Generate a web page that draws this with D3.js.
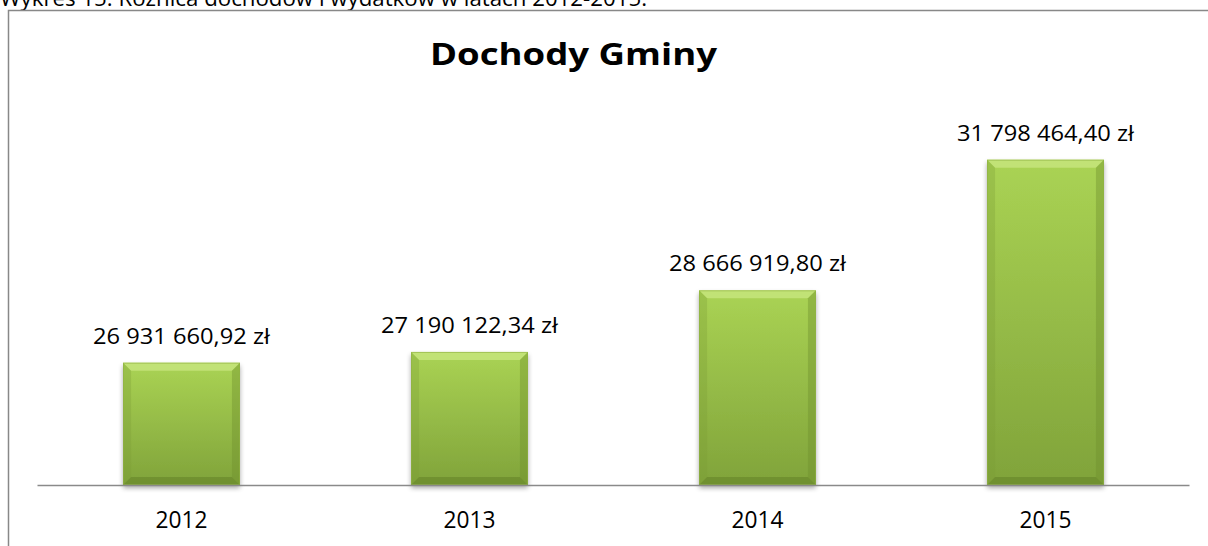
<!DOCTYPE html>
<html><head><meta charset="utf-8">
<script src="https://cdn.jsdelivr.net/npm/d3@7"></script>
<style>
html,body{margin:0;padding:0;background:#fff;overflow:hidden}
svg{display:block}
text{font-family:"Open Sans","Noto Sans",sans-serif;fill:#000}
</style></head>
<body>
<svg id="c" width="1208" height="546"></svg>
<script>
const categories = ["2012", "2013", "2014", "2015"];
const values = [26931660.92, 27190122.34, 28666919.80, 31798464.40];
const valueLabels = ["26 931 660,92 zł", "27 190 122,34 zł", "28 666 919,80 zł", "31 798 464,40 zł"];
const title = "Dochody Gminy";
const caption = "Wykres 15. Różnica dochodów i wydatków w latach 2012-2015.";
const yDomain = [24000000, 32000000];

const svg = d3.select("#c");
const W = 1208, H = 546;

const defs = svg.append("defs");
const g = defs.append("linearGradient").attr("id","barGrad").attr("x1",0).attr("y1",0).attr("x2",0).attr("y2",1);
g.append("stop").attr("offset","0%").attr("stop-color","#aad354");
g.append("stop").attr("offset","100%").attr("stop-color","#80a33a");
const f = defs.append("filter").attr("id","shadow").attr("x","-20%").attr("y","-10%").attr("width","140%").attr("height","130%");
f.append("feGaussianBlur").attr("in","SourceAlpha").attr("stdDeviation",2.5);
f.append("feOffset").attr("dx",0).attr("dy",3).attr("result","ob");
f.append("feComponentTransfer").append("feFuncA").attr("type","linear").attr("slope",0.35);
const fm = f.append("feMerge");
fm.append("feMergeNode");
fm.append("feMergeNode").attr("in","SourceGraphic");

// caption (partly cut off at top, as in the reference)
svg.append("text").attr("x",0).attr("y",6).attr("font-size",22)
  .attr("textLength",647).attr("lengthAdjust","spacingAndGlyphs").text(caption);

// chart border (left and top)
svg.append("path").attr("d",`M8.5,${H} L8.5,10.5 L${W},10.5`)
  .attr("fill","none").attr("stroke","#888").attr("stroke-width",1.5);

// title
svg.append("text").attr("x",573.5).attr("y",65).attr("text-anchor","middle")
  .attr("font-size",31).attr("font-weight","bold")
  .attr("textLength",287).attr("lengthAdjust","spacingAndGlyphs").text(title);

const x = d3.scaleBand().domain(categories).range([37.5, 1189.5]).paddingInner(0.594).paddingOuter(0.297);
const y = d3.scaleLinear().domain(yDomain).range([485, 485 - 8*41.71]);

const bars = svg.append("g");
const bev = 8;
categories.forEach((c,i) => {
  const x0 = x(c), w = x.bandwidth(), y0 = y(values[i]), y1 = y(yDomain[0]);
  const x1 = x0 + w;
  const gb = bars.append("g");
  gb.append("rect").attr("x",x0).attr("y",y0).attr("width",w).attr("height",y1-y0)
    .attr("fill","url(#barGrad)").attr("filter","url(#shadow)");
  gb.append("path").attr("d",`M${x0},${y0} L${x1},${y0} L${x1-bev},${y0+bev} L${x0+bev},${y0+bev} Z`)
    .attr("fill","#c9e782").attr("opacity",0.75);
  gb.append("path").attr("d",`M${x0},${y0} L${x0+bev},${y0+bev} L${x0+bev},${y1-bev} L${x0},${y1} Z`)
    .attr("fill","#7a9c34").attr("opacity",0.3);
  gb.append("path").attr("d",`M${x1},${y0} L${x1-bev},${y0+bev} L${x1-bev},${y1-bev} L${x1},${y1} Z`)
    .attr("fill","#6e8f2c").attr("opacity",0.4);
  gb.append("path").attr("d",`M${x0},${y1} L${x0+bev},${y1-bev} L${x1-bev},${y1-bev} L${x1},${y1} Z`)
    .attr("fill","#5f7e25").attr("opacity",0.5);
  gb.append("rect").attr("x",x0+0.5).attr("y",y0+0.5).attr("width",w-1).attr("height",y1-y0-1)
    .attr("fill","none").attr("stroke","#8fb143").attr("stroke-width",1).attr("opacity",0.6);
});

// axis line
svg.append("line").attr("x1",37.5).attr("x2",1189.5).attr("y1",485.5).attr("y2",485.5)
  .attr("stroke","#8a8a8a").attr("stroke-width",1.5);

// value labels
svg.append("g").selectAll("text").data(categories).join("text")
  .attr("x", c => x(c) + x.bandwidth()/2)
  .attr("y", (c,i) => y(values[i]) - 19)
  .attr("text-anchor","middle").attr("font-size",22.4)
  .attr("textLength",177).attr("lengthAdjust","spacingAndGlyphs")
  .text((c,i) => valueLabels[i]);

// category labels
svg.append("g").selectAll("text").data(categories).join("text")
  .attr("x", c => x(c) + x.bandwidth()/2).attr("y",528)
  .attr("text-anchor","middle").attr("font-size",24)
  .attr("textLength",52).attr("lengthAdjust","spacingAndGlyphs")
  .text(c => c);
</script>
</body></html>
